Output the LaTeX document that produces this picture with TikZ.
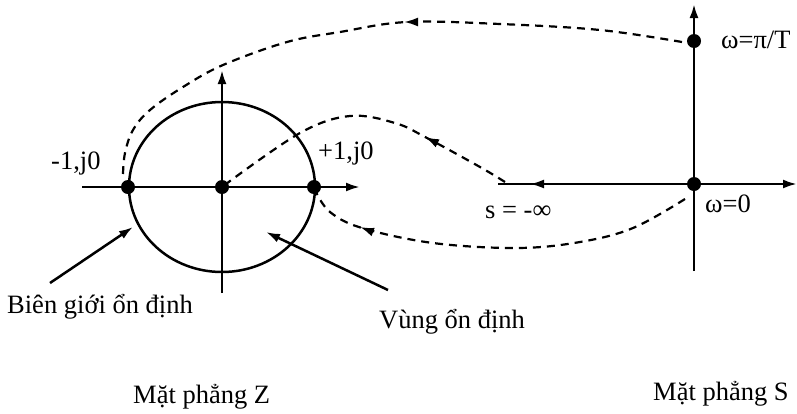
\documentclass[tikz,border=0pt]{standalone}
\usepackage{fontspec}
\setmainfont{Liberation Serif}
\usetikzlibrary{arrows.meta}
\begin{document}
\begin{tikzpicture}[x=1pt,y=-1pt,
  axis/.style={line width=2.5pt,-{Latex[length=14pt,width=9pt]}},
  dotmark/.style={circle,fill=black,inner sep=0pt,minimum size=14pt},
  mapcurve/.style={line width=2.2pt,dash pattern=on 8pt off 6pt},
  tipmark/.style={line width=2.2pt,-{Latex[length=14pt,width=9pt]}},
  lbl/.style={inner sep=0pt,anchor=base west,font=\fontsize{26.5}{30}\selectfont}]
\useasboundingbox (0,0) rectangle (797,413);
% Z plane
\draw[line width=2.5pt] (222,187) ellipse [x radius=93, y radius=85];
\coordinate (zl) at (82,187);
\coordinate (zr) at (360,187);
\coordinate (zb) at (222,293);
\coordinate (zt) at (222,70);
\draw[axis] (zl) -- (zr);
\draw[axis] (zb) -- (zt);
\node[dotmark] (m1) at (128,187) {};
\node[dotmark] (z0) at (222,187) {};
\node[dotmark] (p1) at (314,187) {};
\node[lbl] (lm1) at (51,169) {-1,j0};
\node[lbl] (lp1) at (318,159) {+1,j0};
% S plane
\coordinate (sl) at (498,184);
\coordinate (sr) at (797,184);
\coordinate (sb) at (694,271);
\coordinate (st) at (694,4);
\draw[axis] (sl) -- (sr);
\draw[axis] (sb) -- (st);
\draw[tipmark] (545,184) -- (530,184);
\node[dotmark] (s0) at (694,184) {};
\node[dotmark] (spi) at (694,41) {};
\node[lbl] (lpi) at (721,48) {ω=π/T};
\node[lbl] (lw0) at (705,212) {ω=0};
\node[lbl] (linf) at (485,218) {s = -∞};
% dashed mappings
\coordinate (c1a) at (682,42);
\coordinate (c1b) at (123,174);
\draw[mapcurve] plot[smooth,tension=0.6] coordinates {(c1a) (600,30) (500,24) (407,22) (340,32) (287,42) (223,65) (183,87) (150,110) (133,130) (125,153) (c1b)};
\draw[tipmark] (416,22) -- (404,22);
\coordinate (c2a) at (685,199);
\coordinate (c2b) at (316,192);
\draw[mapcurve] plot[smooth,tension=0.6] coordinates {(c2a) (633,228) (580,242) (517,248) (433,243) (362,228) (330,212) (c2b)};
\draw[tipmark] (373,232) -- (360,227);
\coordinate (c3a) at (505,182);
\coordinate (c3b) at (226,184);
\draw[mapcurve] plot[smooth,tension=0.6] coordinates {(c3a) (480,167) (427,138) (395,123) (350,116) (300,133) (c3b)};
\draw[tipmark] (437,143) -- (425,137);
% labels with arrows
\node[lbl] (bien) at (7,313) {Biên giới ổn định};
\node[lbl] (vung) at (379,328) {Vùng ổn định};
\coordinate (bt) at (133,227);
\coordinate (vt) at (266,232);
\draw[line width=2.5pt,-{Latex[length=14pt,width=9pt]}] (50,283) -- (bt);
\draw[line width=2.5pt,-{Latex[length=14pt,width=9pt]}] (388,290) -- (vt);
\node[lbl] (mz) at (133,403) {Mặt phẳng Z};
\node[lbl] (ms) at (653,400) {Mặt phẳng S};
\end{tikzpicture}
\end{document}
